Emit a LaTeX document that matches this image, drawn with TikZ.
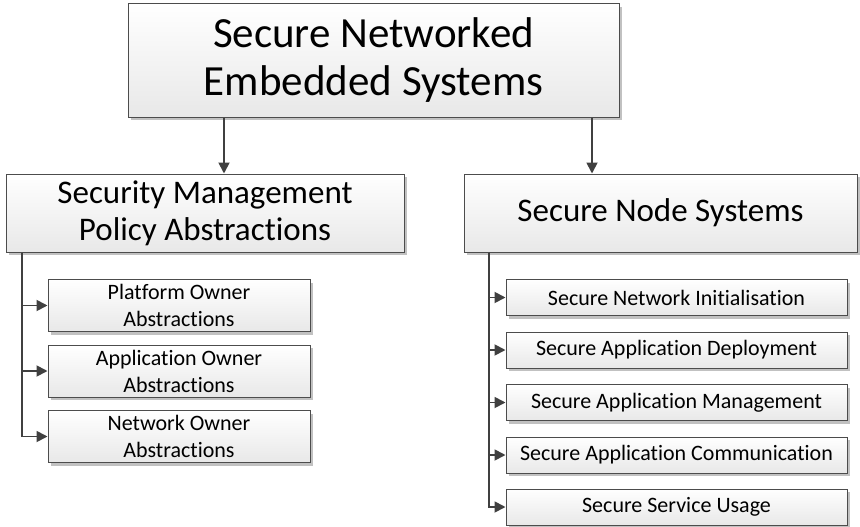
\documentclass[tikz,border=0pt]{standalone}
\usepackage{fontspec}
\setmainfont{Carlito}[Ligatures={NoCommon}]
\usetikzlibrary{shadows,arrows.meta}
\begin{document}
\begin{tikzpicture}[x=1pt,y=-1pt,
  box/.style={draw=black!70, line width=1pt, top color=white, bottom color=black!9,
    drop shadow={shadow xshift=3pt, shadow yshift=-3pt, fill=black!30, opacity=0.8},
    inner sep=0pt, align=center, text=black},
  big/.style={box, font=\fontsize{43}{48}\selectfont},
  mid/.style={box, font=\fontsize{33}{37}\selectfont},
  small/.style={box, font=\fontsize{22}{27}\selectfont},
  conn/.style={draw=black!75, line width=1.8pt, -{Triangle[length=11pt,width=11pt]}}]
\useasboundingbox (0,0) rectangle (860,527);
\node[big, minimum width=491pt, minimum height=113pt] (top) at (373.5,60.5) {Secure Networked\\Embedded Systems};
\node[mid, minimum width=398pt, minimum height=78pt] (smp) at (205,213) {Security Management\\Policy Abstractions};
\node[mid, minimum width=393pt, minimum height=78pt] (sns) at (660.5,213) {Secure Node Systems};
\node[small, minimum width=262pt, minimum height=52pt] (po) at (179,305.5) {Platform Owner\\Abstractions};
\node[small, minimum width=262pt, minimum height=52pt] (ao) at (179,371) {Application Owner\\Abstractions};
\node[small, minimum width=262pt, minimum height=52pt] (no) at (179,436.5) {Network Owner\\Abstractions};
\node[small, minimum width=341pt, minimum height=36pt] (r1) at (676.5,297.5) {Secure Network Initialisation};
\node[small, minimum width=341pt, minimum height=36pt] (r2) at (676.5,350) {Secure Application Deployment};
\node[small, minimum width=341pt, minimum height=36pt] (r3) at (676.5,402.5) {Secure Application Management};
\node[small, minimum width=341pt, minimum height=36pt] (r4) at (676.5,455) {Secure Application Communication};
\node[small, minimum width=341pt, minimum height=36pt] (r5) at (676.5,507) {Secure Service Usage};
\coordinate (ax1) at (224,0);
\coordinate (ax2) at (592,0);
\coordinate (lx) at (22,0);
\coordinate (rx) at (489,0);
\draw[conn] (top.south -| ax1) -- (smp.north -| ax1);
\draw[conn] (top.south -| ax2) -- (sns.north -| ax2);
\foreach \c in {po,ao,no} \draw[conn] (smp.south -| lx) |- (\c.west);
\foreach \c in {r1,r2,r3,r4,r5} \draw[conn] (sns.south -| rx) |- (\c.west);
\end{tikzpicture}
\end{document}
